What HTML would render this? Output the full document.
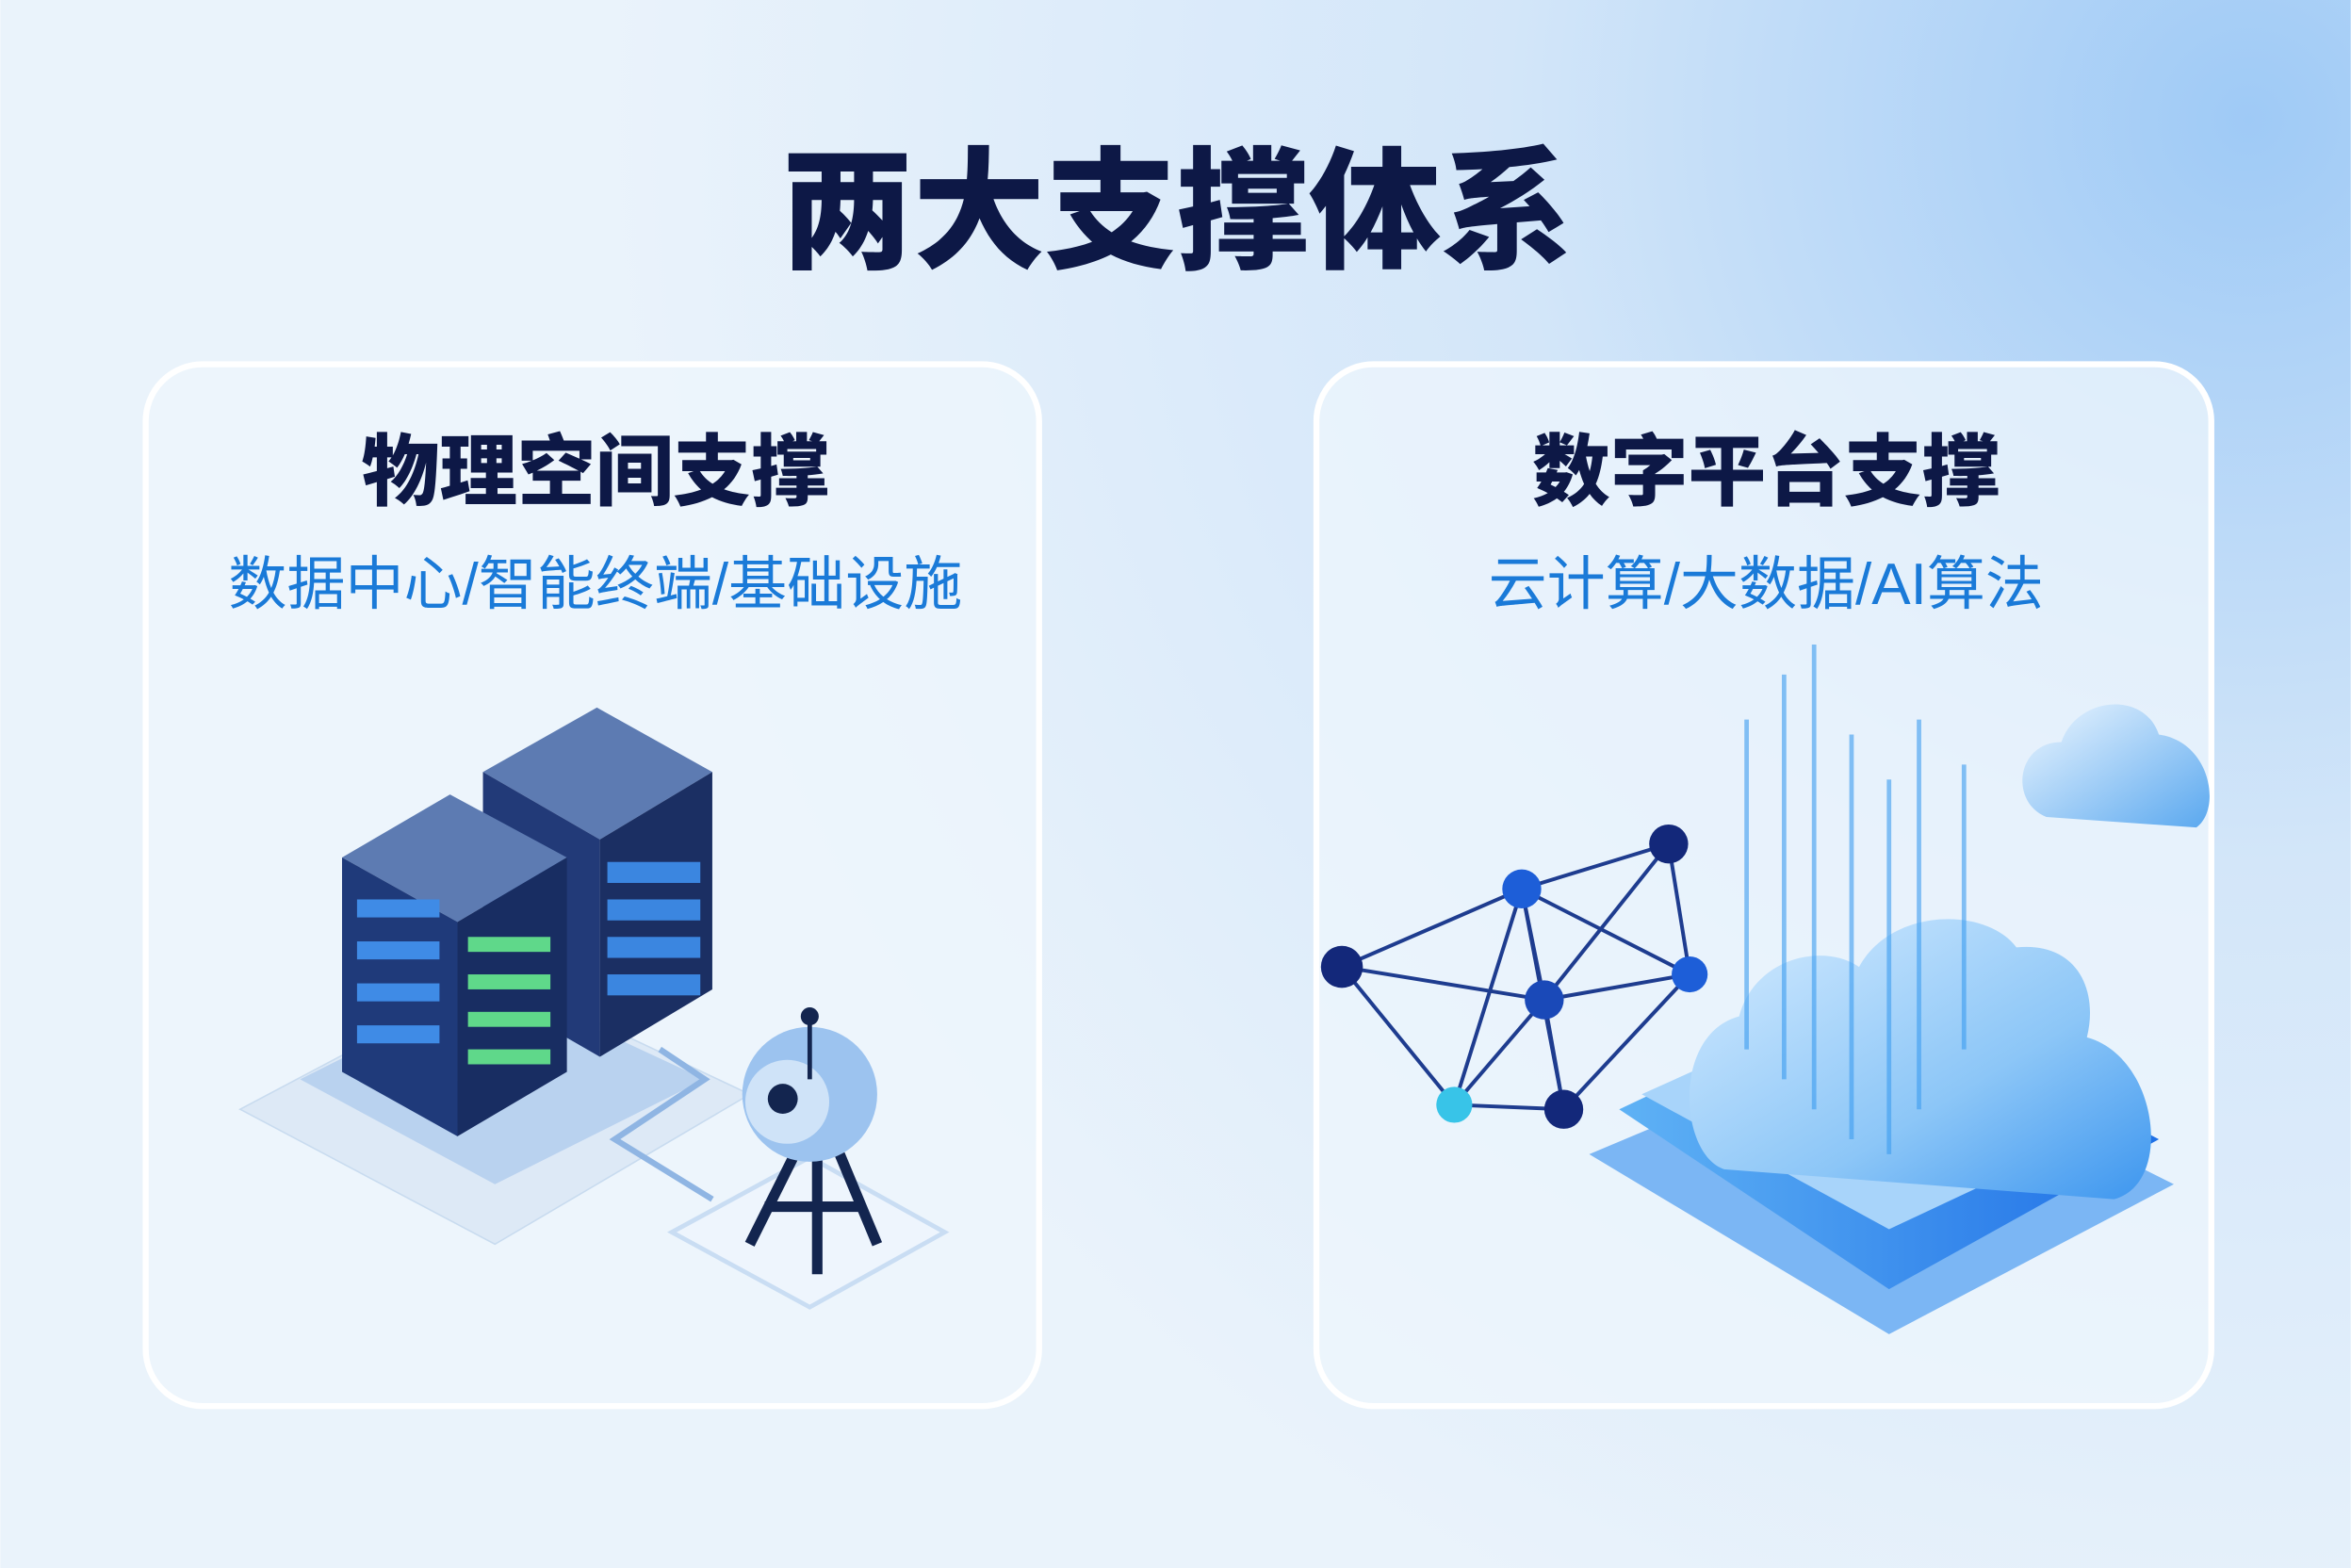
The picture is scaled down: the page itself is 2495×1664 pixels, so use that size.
<!DOCTYPE html>
<html><head><meta charset="utf-8"><style>
html,body{margin:0;padding:0;width:2495px;height:1664px;overflow:hidden}
svg{display:block}
text{font-family:"Liberation Sans","Noto Sans CJK SC",sans-serif}
</style></head><body>
<svg width="2495" height="1664" viewBox="0 0 1568 1046" xmlns="http://www.w3.org/2000/svg">
<defs>
<radialGradient id="bg" cx="1500" cy="80" r="1100" gradientUnits="userSpaceOnUse">
<stop offset="0" stop-color="#9fcaf6"/><stop offset="0.45" stop-color="#d3e6f9"/><stop offset="1" stop-color="#eaf3fb"/></radialGradient>
<linearGradient id="cloud" x1="0" y1="0" x2="1" y2="1">
<stop offset="0" stop-color="#d6ecff"/><stop offset="0.6" stop-color="#8cc6f7"/><stop offset="1" stop-color="#3d96ef"/></linearGradient>
<linearGradient id="plat" x1="0" y1="0" x2="1" y2="0">
<stop offset="0" stop-color="#5fb2f5"/><stop offset="1" stop-color="#1e6fe6"/></linearGradient>
<linearGradient id="sc" x1="0" y1="0" x2="1" y2="1">
<stop offset="0" stop-color="#eef7ff"/><stop offset="1" stop-color="#5aa8ef"/></linearGradient>
</defs>
<rect width="1568" height="1046" fill="url(#bg)"/>
<text x="785" y="172" font-size="88" font-weight="900" fill="#0d1846" text-anchor="middle">两大支撑体系</text>
<rect x="97" y="243" width="596" height="695" rx="38" fill="#eef5fc" fill-opacity="0.75" stroke="#ffffff" stroke-width="4"/>
<rect x="878" y="243" width="597" height="695" rx="38" fill="#eef5fc" fill-opacity="0.75" stroke="#ffffff" stroke-width="4"/>
<text x="397" y="333" font-size="52" font-weight="900" fill="#0d1846" text-anchor="middle">物理空间支撑</text>
<text x="397" y="403" font-size="39" fill="#1a7ad8" text-anchor="middle">数据中心/智能终端/基础设施</text>
<text x="1178" y="333" font-size="52" font-weight="900" fill="#0d1846" text-anchor="middle">数字平台支撑</text>
<text x="1178" y="403" font-size="39" fill="#1a7ad8" text-anchor="middle">云计算/大数据/AI算法</text>
<!-- left illustration -->
<polygon points="160,740 330,650 500,730 330,830" fill="#dde9f6" stroke="#c8dbef"/>
<polygon points="200,720 330,655 470,720 330,790" fill="#b9d2ef"/>
<polyline points="440,700 470,720 410,760 475,800" fill="none" stroke="#8fb5e3" stroke-width="4"/>
<polygon points="448,822 540,772 630,822 540,872" fill="#eef5fd" stroke="#c9ddf3" stroke-width="3"/>
<polygon points="322,515 398,472 475,515 400,560" fill="#5d7bb2"/>
<polygon points="322,515 400,560 400,705 322,660" fill="#223a78"/>
<polygon points="400,560 475,515 475,660 400,705" fill="#1b2f63"/>
<g fill="#3b86e0"><rect x="405" y="575" width="62" height="14"/><rect x="405" y="600" width="62" height="14"/><rect x="405" y="625" width="62" height="14"/><rect x="405" y="650" width="62" height="14"/></g>
<polygon points="228,572 300,530 378,572 305,615" fill="#5d7bb2"/>
<polygon points="228,572 305,615 305,758 228,715" fill="#1f3a7a"/>
<polygon points="305,615 378,572 378,715 305,758" fill="#182d62"/>
<g fill="#3f8be6"><rect x="238" y="600" width="55" height="12"/><rect x="238" y="628" width="55" height="12"/><rect x="238" y="656" width="55" height="12"/><rect x="238" y="684" width="55" height="12"/></g>
<g fill="#5fd88a"><rect x="312" y="625" width="55" height="10"/><rect x="312" y="650" width="55" height="10"/><rect x="312" y="675" width="55" height="10"/><rect x="312" y="700" width="55" height="10"/></g>
<g stroke="#13254f" stroke-width="7" fill="none"><line x1="530" y1="770" x2="500" y2="830"/><line x1="545" y1="770" x2="545" y2="850"/><line x1="560" y1="770" x2="585" y2="830"/><line x1="510" y1="805" x2="575" y2="805"/></g>
<circle cx="540" cy="730" r="45" fill="#9cc3ef"/>
<circle cx="525" cy="735" r="28" fill="#cfe3f8"/>
<circle cx="522" cy="733" r="10" fill="#13254f"/>
<line x1="540" y1="680" x2="540" y2="720" stroke="#13254f" stroke-width="3"/><circle cx="540" cy="678" r="6" fill="#13254f"/>
<!-- right illustration -->
<g stroke="#1e3c8f" stroke-width="2.5">
<line x1="895" y1="645" x2="1015" y2="593"/><line x1="895" y1="645" x2="1030" y2="667"/><line x1="895" y1="645" x2="970" y2="737"/>
<line x1="1015" y1="593" x2="1113" y2="563"/><line x1="1015" y1="593" x2="1030" y2="667"/><line x1="1015" y1="593" x2="970" y2="737"/><line x1="1015" y1="593" x2="1127" y2="650"/><line x1="1015" y1="593" x2="1043" y2="740"/>
<line x1="1113" y1="563" x2="1030" y2="667"/><line x1="1113" y1="563" x2="1127" y2="650"/>
<line x1="1030" y1="667" x2="1127" y2="650"/><line x1="1030" y1="667" x2="970" y2="737"/><line x1="1030" y1="667" x2="1043" y2="740"/>
<line x1="970" y1="737" x2="1043" y2="740"/><line x1="1043" y1="740" x2="1127" y2="650"/></g>
<circle cx="895" cy="645" r="14" fill="#13287a"/><circle cx="1015" cy="593" r="13" fill="#1d5ed8"/><circle cx="1113" cy="563" r="13" fill="#13287a"/>
<circle cx="1030" cy="667" r="13" fill="#1a49b8"/><circle cx="1127" cy="650" r="12" fill="#1d5ed8"/><circle cx="970" cy="737" r="12" fill="#38c4e8"/><circle cx="1043" cy="740" r="13" fill="#13287a"/>
<polygon points="1060,770 1250,690 1450,790 1260,890" fill="#7bb6f4"/>
<polygon points="1080,740 1250,660 1440,760 1260,860" fill="url(#plat)"/>
<polygon points="1095,730 1250,660 1420,745 1260,820" fill="#a8d4fa"/>
<path d="M1150,780 C1120,770 1115,690 1160,678 C1170,640 1215,628 1240,645 C1262,605 1325,605 1345,632 C1385,628 1400,660 1392,692 C1440,705 1450,790 1410,800 Z" fill="url(#cloud)"/>
<g stroke="#3d9df0" stroke-width="3" opacity="0.6"><line x1="1165" y1="480" x2="1165" y2="700"/><line x1="1190" y1="450" x2="1190" y2="720"/><line x1="1210" y1="430" x2="1210" y2="740"/><line x1="1235" y1="490" x2="1235" y2="760"/><line x1="1260" y1="520" x2="1260" y2="770"/><line x1="1280" y1="480" x2="1280" y2="740"/><line x1="1310" y1="510" x2="1310" y2="700"/></g>
<path d="M1365,545 C1340,535 1345,495 1375,495 C1385,465 1430,460 1440,490 C1475,495 1482,540 1465,552 Z" fill="url(#sc)"/>
</svg>
</body></html>
